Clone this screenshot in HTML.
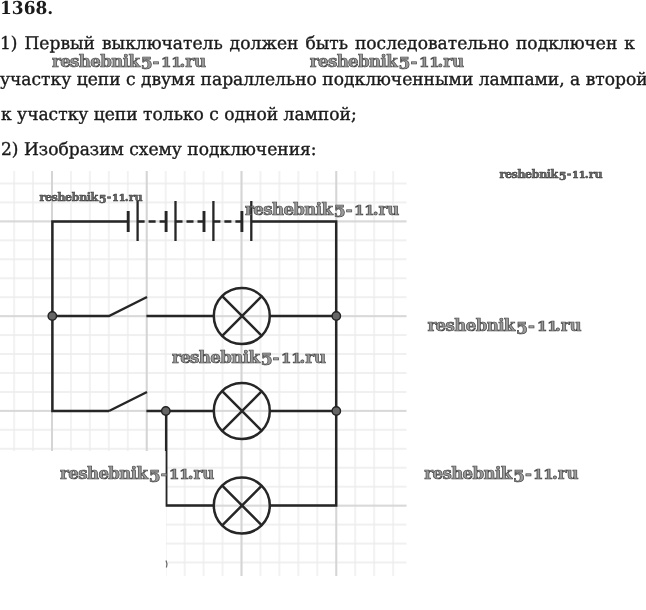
<!DOCTYPE html>
<html lang="ru">
<head>
<meta charset="utf-8">
<title>1368</title>
<style>
html,body{margin:0;padding:0;background:#fff;}
body{width:646px;height:610px;position:relative;overflow:hidden;font-family:"DejaVu Serif Condensed","DejaVu Serif","Liberation Serif",serif;color:#1a1a1a;}
.t{-webkit-text-stroke:0.35px #1a1a1a;position:absolute;left:0;white-space:nowrap;font-size:17.6px;line-height:24px;height:24px;transform-origin:0 50%;}
.b{font-weight:bold;-webkit-text-stroke:0;}
.wm{position:absolute;white-space:nowrap;font-family:"DejaVu Serif","Liberation Serif",serif;font-weight:bold;font-size:16.6px;line-height:20px;height:20px;color:#9c9c9c;-webkit-text-stroke:0.7px #444;transform-origin:0 50%;}
.wm.s{font-size:11.1px;color:#6a6a6a;-webkit-text-stroke:0.5px #3c3c3c;}
.wm .a{letter-spacing:-.036em;}
.wm .n{display:inline-block;font-size:.74em;transform:scaleX(1.2);transform-origin:0 50%;margin-right:.11em;}
.wm .f{position:relative;top:.15em;font-size:1.03em;margin-left:.08em;}
.wm .h{letter-spacing:.1em;}
svg{position:absolute;left:0;top:0;filter:blur(.4px);}
#tx{position:absolute;left:0;top:0;width:646px;height:610px;filter:blur(.35px);}
</style>
</head>
<body>
<svg width="646" height="610" viewBox="0 0 646 610">
  <defs>
    <pattern id="minor" x="51" y="220.4" width="18.95" height="18.95" patternUnits="userSpaceOnUse">
      <path d="M1 0V18.95M0 1H18.95" stroke="#ececec" stroke-width="1.3" fill="none"/>
    </pattern>
    <pattern id="major" x="51" y="220.4" width="94.75" height="94.75" patternUnits="userSpaceOnUse">
      <path d="M1 0V94.75M0 1H94.75" stroke="#d1d1d1" stroke-width="1.7" fill="none"/>
    </pattern>
  </defs>
  <rect x="0" y="171" width="406.5" height="405" fill="url(#minor)"/>
  <rect x="0" y="171" width="406.5" height="405" fill="url(#major)"/>
  <rect x="0" y="451" width="166" height="130" fill="#fff"/>
  <g stroke="#262626" stroke-width="2.5" fill="none" stroke-linecap="butt">
    <!-- outer loop -->
    <path d="M128 221.5H52.4V411H109M251 221.5H336.2V505.5H270"/>
    <!-- battery -->
    <path d="M128.2 211V232M166.1 211V232M204 211V232M241.9 211V232" stroke-width="2.9"/>
    <path d="M137.6 201V241M175.5 201V241M213.4 201V241M251.3 201V241" stroke-width="2.3"/>
    <path d="M137.6 221.5H166.1M175.5 221.5H204M213.4 221.5H241.9" stroke-dasharray="7 4"/>
    <!-- branch 1 -->
    <path d="M52.4 316H109L147 297M146.4 316H213.5M270.5 316H336.2"/>
    <!-- branch 2 -->
    <path d="M109 411L147 392M146.4 411H213.5M270.5 411H336.2"/>
    <!-- branch 3 -->
    <path d="M166.2 411V505.5H213.5"/>
    <!-- lamps -->
    <g id="lamp1"><circle cx="241.8" cy="316" r="28"/><path d="M222.2 296.2L261.8 335.8M261.8 296.2L222.2 335.8"/></g>
    <g id="lamp2"><circle cx="241.8" cy="411" r="28"/><path d="M222.2 391.2L261.8 430.8M261.8 391.2L222.2 430.8"/></g>
    <g id="lamp3"><circle cx="241.8" cy="505.5" r="28"/><path d="M222.2 485.7L261.8 525.3M261.8 485.7L222.2 525.3"/></g>
  </g>
  <rect x="0" y="451" width="165.6" height="130" fill="#fff"/>
  <path d="M166 560.5q1.8 3.5 .4 7" stroke="#6a6a6a" stroke-width="1.3" fill="none"/>
  <g stroke="#222" stroke-width="1.4" fill="#666">
    <circle cx="52.3" cy="316" r="4.2"/>
    <circle cx="336.3" cy="316" r="4.2"/>
    <circle cx="165.8" cy="411" r="4.2"/>
    <circle cx="336.3" cy="411" r="4.2"/>
  </g>
</svg>

<div id="tx">
<div class="t b" id="l0" style="top:-4.1px;left:0.3px;font-size:17.8px;transform:scaleX(1.062) rotate(0.03deg);">1368.</div>
<div class="t" id="l1" style="top:31px;left:0.4px;transform:scaleX(1.0790) skewX(0.05deg);word-spacing:1.4px;">1) Первый выключатель должен быть последовательно подключен к</div>
<div class="t" id="l2" style="top:67px;left:0px;transform:scaleX(1.0790) skewX(0.05deg);">участку цепи с двумя параллельно подключенными лампами, а второй</div>
<div class="t" id="l3" style="top:102.4px;left:0.9px;transform:scaleX(1.0790) skewX(0.05deg);">к участку цепи только с одной лампой;</div>
<div class="t" id="l4" style="top:137px;left:0.9px;transform:scaleX(1.0790) skewX(0.05deg);">2) Изобразим схему подключения:</div>

<div class="wm" id="wA" style="left:52.0px;top:50.5px;"><span class="a">reshebnik</span><span class="f">5</span><span class="h">-</span><span class="n">11</span>.ru</div>
<div class="wm" id="wB" style="left:309.8px;top:50.5px;"><span class="a">reshebnik</span><span class="f">5</span><span class="h">-</span><span class="n">11</span>.ru</div>
<div class="wm s" id="wC" style="left:499.5px;top:163.8px;"><span class="a">reshebnik</span><span class="f">5</span><span class="h">-</span><span class="n">11</span>.ru</div>
<div class="wm s" id="wD" style="left:39.5px;top:187.4px;"><span class="a">reshebnik</span><span class="f">5</span><span class="h">-</span><span class="n">11</span>.ru</div>
<div class="wm" id="wE" style="left:245.1px;top:198.9px;"><span class="a">reshebnik</span><span class="f">5</span><span class="h">-</span><span class="n">11</span>.ru</div>
<div class="wm" id="wF" style="left:427.4px;top:315.1px;"><span class="a">reshebnik</span><span class="f">5</span><span class="h">-</span><span class="n">11</span>.ru</div>
<div class="wm" id="wG" style="left:172.0px;top:346.9px;"><span class="a">reshebnik</span><span class="f">5</span><span class="h">-</span><span class="n">11</span>.ru</div>
<div class="wm" id="wH" style="left:60.1px;top:463.3px;"><span class="a">reshebnik</span><span class="f">5</span><span class="h">-</span><span class="n">11</span>.ru</div>
<div class="wm" id="wI" style="left:424.3px;top:463.3px;"><span class="a">reshebnik</span><span class="f">5</span><span class="h">-</span><span class="n">11</span>.ru</div>
</div>
</body>
</html>
